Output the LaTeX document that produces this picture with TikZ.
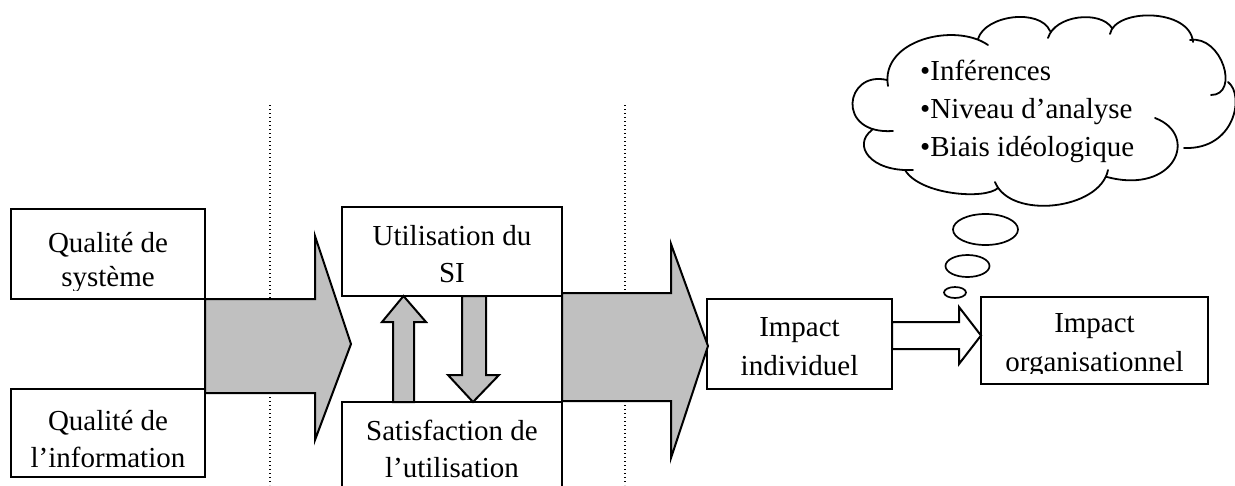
\documentclass[tikz,border=0pt]{standalone}
\usepackage{fontspec}
\setmainfont{Liberation Serif}
\definecolor{arrowgray}{RGB}{192,192,192}
\begin{document}
\begin{tikzpicture}[x=1pt,y=-1pt,
  box/.style={draw=black, fill=white, line width=2pt, inner sep=0pt, outer sep=0pt},
  txt/.style={anchor=base, inner sep=0pt, font=\fontsize{29}{35}\selectfont},
  ltxt/.style={txt, anchor=base west},
  blockarrow/.style={draw=black, line width=2pt, line join=miter, fill=arrowgray},
  whitearrow/.style={draw=black, line width=2pt, line join=miter, fill=white},
  sepline/.style={line width=1.2pt, dash pattern=on 1.2pt off 2.8pt, black},
  cloudline/.style={line width=1.8pt, line cap=round},
  bubble/.style={draw=black, line width=1.7pt}
]
\useasboundingbox (0,0) rectangle (1235,485);
\clip (0,0) rectangle (1235,485);

% separators
\draw[sepline] (270,105) -- (270,485);
\draw[sepline] (625,105) -- (625,485);

% boxes
\node[box, minimum width=194pt, minimum height=90pt] (q1) at (108,254) {};
\node[box, minimum width=194pt, minimum height=88pt] (q2) at (108,433) {};
\node[box, minimum width=220pt, minimum height=89pt] (u) at (452,251.5) {};
\node[box, minimum width=220pt, minimum height=98pt] (s) at (452,451) {};
\node[box, minimum width=185pt, minimum height=90pt] (ii) at (799.5,344) {};
\node[box, minimum width=227pt, minimum height=87pt] (io) at (1094.5,340.5) {};

% block arrows
\draw[blockarrow] (205,299) -- (315,299) -- (315,236) -- (351,344) -- (315,440) -- (315,393) -- (205,393) -- cycle;
\draw[blockarrow] (562,293) -- (671,293) -- (671,244) -- (708,346) -- (671,458) -- (671,401) -- (562,401) -- cycle;
\draw[blockarrow] (393,402) -- (393,322) -- (382,322) -- (403.5,296) -- (426,322) -- (414,322) -- (414,402) -- cycle;
\draw[blockarrow] (462,296) -- (462,375) -- (448,375) -- (473,402) -- (499,375) -- (486,375) -- (486,296) -- cycle;
\draw[whitearrow] (892,322) -- (959,322) -- (959,307) -- (981,335.5) -- (959,364) -- (959,349) -- (892,349) -- cycle;

% texts
\node[txt] (q1a) at (108,252) {Qualité de};
\begin{scope}
  \clip (11,209) rectangle (205,290);
  \node[txt] (q1b) at (108,286) {système};
\end{scope}
\node[txt] (q2a) at (108,430) {Qualité de};
\node[txt] (q2b) at (108,467) {l’information};
\node[txt] (ua) at (452,245) {Utilisation du};
\node[txt] (ub) at (452,282) {SI};
\node[txt] (sa) at (452,440) {Satisfaction de};
\node[txt] (sb) at (452,477) {l’utilisation};
\node[txt] (iia) at (799.5,336) {Impact};
\node[txt] (iib) at (799.5,375) {individuel};
\node[txt] (ioa) at (1094.5,332) {Impact};
\begin{scope}
  \clip (981,297) rectangle (1208,373.5);
  \node[txt] (iob) at (1094.5,371) {organisationnel};
\end{scope}

% thought cloud
\draw[cloudline]
  (893,131) .. controls (835,135) and (845,70) .. (887,80)
  (888,86) .. controls (880,40) and (955,22) .. (988,45)
  (978,39) .. controls (985,15) and (1040,8) .. (1050,31)
  (1048,38) .. controls (1055,15) and (1100,10) .. (1112,28)
  (1110,34) .. controls (1115,8) and (1190,8) .. (1193,42)
  (1190,40) .. controls (1222,35) and (1240,95) .. (1211,95)
  (1228,82) .. controls (1245,95) and (1235,150) .. (1184,148)
  (1155,118) .. controls (1200,135) and (1175,195) .. (1107,177)
  (1108,170) .. controls (1100,210) and (1010,220) .. (995,182)
  (998,188) .. controls (985,200) and (920,195) .. (905,170)
  (913,170) .. controls (870,172) and (852,145) .. (872,130);
\node[ltxt] (c1) at (920,80) {•Inférences};
\node[ltxt] (c2) at (920,118) {•Niveau d’analyse};
\node[ltxt] (c3) at (920,156) {•Biais idéologique};

% thought bubbles
\draw[bubble] (955,292.5) ellipse [x radius=11pt, y radius=5.5pt];
\draw[bubble] (967.5,266) ellipse [x radius=22pt, y radius=11pt];
\draw[bubble] (985.5,229.5) ellipse [x radius=32.5pt, y radius=15.5pt];
\end{tikzpicture}
\end{document}
